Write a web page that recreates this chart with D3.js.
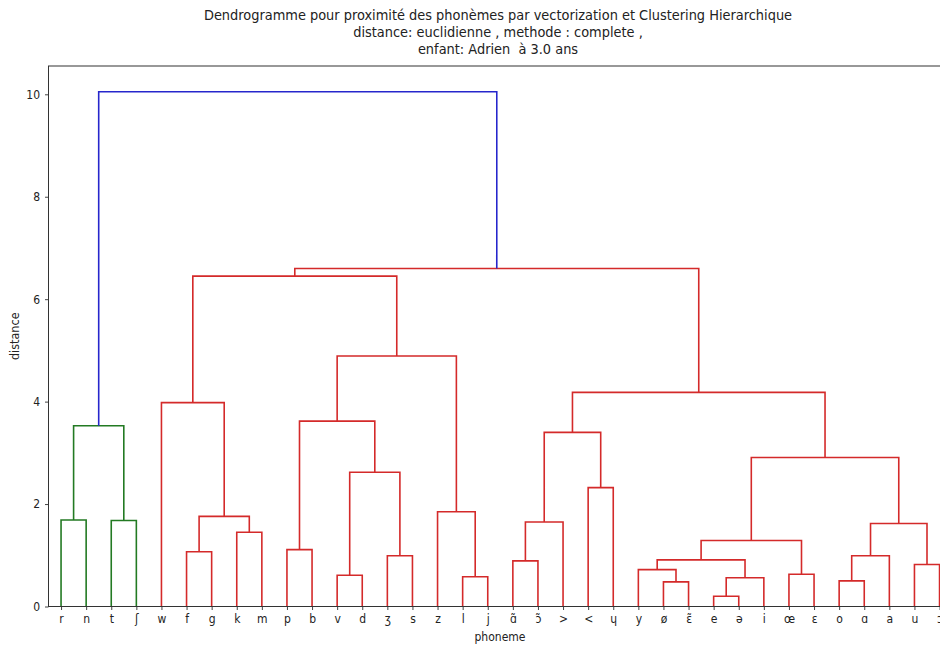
<!DOCTYPE html>
<html>
<head>
<meta charset="utf-8">
<script src="https://cdn.jsdelivr.net/npm/d3@7"></script>
<style>
  html, body { margin: 0; padding: 0; background: #fff; }
  svg { display: block; }
  text { font-family: "DejaVu Sans Condensed", "DejaVu Sans", sans-serif; fill: #222; white-space: pre; }
</style>
</head>
<body>
<svg id="chart" width="940" height="645"></svg>
<script>
// ---- data ----
const leaves = ["r","n","t","ʃ","w","f","g","k","m","p","b","v","d","ʒ","s","z","l","j",
  "ɑ̃","ɔ̃",">","<","ɥ","y","ø","ɛ̃","e","ə","i","œ","ɛ","o","ɑ","a","u","ɔ"];
// linkage rows: new cluster id = leaves.length + row index
const mergeA = [26,31,24,36,16,11,29,23,34,18,43,37,13,5, 9, 46,7, 47,45,2, 0, 49,15,21,41,51,54,56,50,4, 62,64,65,68,63];
const mergeB = [27,32,25,28,17,12,30,38,35,19,39,33,14,6, 10,42,8, 44,20,3, 1, 52,40,22,48,53,59,55,60,57,61,58,67,66,69];
const mergeHeight = [0.20,0.50,0.48,0.56,0.58,0.61,0.63,0.72,0.82,0.89,0.91,0.99,0.99,1.07,1.11,1.29,1.45,1.62,1.65,1.68,1.69,1.76,1.85,2.32,2.62,2.91,3.40,3.53,3.62,3.98,4.18,4.89,6.45,6.60,10.05];
const yTicks = [0,2,4,6,8,10];
const titleLines = [
  "Dendrogramme pour proximité des phonèmes par vectorization et Clustering Hierarchique",
  "distance: euclidienne , methode : complete ,",
  "enfant: Adrien  à 3.0 ans"
];
const clusterPalette = ["#237a23", "#d42a2a"];
const aboveColor = "#2626cc";

// ---- layout ----
const svg = d3.select("#chart");
const nLeaves = leaves.length;
const pLeft = 48.5, pTop = 66, pBottom = 606.5, step = 25.1;
const maxH = d3.max(mergeHeight);
const x = d3.scaleLinear().domain([0, 10 * nLeaves]).range([pLeft, pLeft + nLeaves * step]);
const y = d3.scaleLinear().domain([0, maxH * 1.05]).range([pBottom, pTop]);

// node positions
const nodeX = [], nodeH = [];
leaves.forEach((d, i) => { nodeX[i] = 5 + 10 * i; nodeH[i] = 0; });
mergeHeight.forEach((h, r) => {
  const id = nLeaves + r;
  nodeX[id] = (nodeX[mergeA[r]] + nodeX[mergeB[r]]) / 2;
  nodeH[id] = h;
});

// colours (scipy style: threshold 0.7*max)
const threshold = 0.7 * maxH;
const linkColor = [];
const roots = [];
for (let r = mergeHeight.length - 1; r >= 0; r--) {
  if (mergeHeight[r] >= threshold) {
    [mergeA[r], mergeB[r]].forEach(c => { if (c >= nLeaves && mergeHeight[c - nLeaves] < threshold) roots.push(c); });
  }
}
roots.sort((a, b) => nodeX[a] - nodeX[b]);
function paint(id, col) {
  if (id < nLeaves) return;
  const r = id - nLeaves;
  linkColor[r] = col;
  paint(mergeA[r], col); paint(mergeB[r], col);
}
roots.forEach((id, k) => paint(id, clusterPalette[k % clusterPalette.length]));
mergeHeight.forEach((h, r) => { if (linkColor[r] === undefined) linkColor[r] = aboveColor; });

// clip to plot area
svg.append("defs").append("clipPath").attr("id", "plotclip")
  .append("rect").attr("x", pLeft).attr("y", pTop - 2).attr("width", nLeaves * step).attr("height", pBottom - pTop + 4);

const g = svg.append("g").attr("clip-path", "url(#plotclip)");
g.selectAll("path.link").data(mergeHeight.map((h, r) => r)).join("path")
  .attr("class", "link")
  .attr("fill", "none")
  .attr("stroke", r => linkColor[r])
  .attr("stroke-width", 1.6)
  .attr("d", r => {
    const a = mergeA[r], b = mergeB[r], h = mergeHeight[r];
    return `M${x(nodeX[a])},${y(nodeH[a])}V${y(h)}H${x(nodeX[b])}V${y(nodeH[b])}`;
  });

// axes
const yAxis = d3.axisLeft(y).tickValues(yTicks).tickSize(3.5).tickPadding(5);
const ya = svg.append("g").attr("transform", `translate(${pLeft},0)`).call(yAxis);
ya.select(".domain").remove();
ya.selectAll("text").style("font-size", "12px").attr("fill", "#222");
ya.selectAll("line").attr("stroke", "#444");

const xAxis = d3.axisBottom(x).tickValues(leaves.map((d, i) => 5 + 10 * i))
  .tickFormat((d, i) => leaves[i]).tickSize(3.5).tickPadding(4);
const xa = svg.append("g").attr("transform", `translate(0,${pBottom})`).call(xAxis);
xa.select(".domain").remove();
xa.selectAll("text").style("font-size", "12px").attr("fill", "#222");
xa.selectAll("line").attr("stroke", "#444");

// frame
svg.append("rect").attr("x", pLeft).attr("y", pTop).attr("width", nLeaves * step).attr("height", pBottom - pTop)
  .attr("fill", "none").attr("stroke", "#333").attr("stroke-width", 1);

// titles
svg.append("g").selectAll("text").data(titleLines).join("text")
  .attr("x", 498).attr("y", (d, i) => 20 + i * 17)
  .attr("text-anchor", "middle").style("font-size", "14.4px").text(d => d);

svg.append("text").attr("x", 500).attr("y", 641).attr("text-anchor", "middle")
  .style("font-size", "12px").text("phoneme");
svg.append("text").attr("transform", `translate(19,${(pTop + pBottom) / 2}) rotate(-90)`)
  .attr("text-anchor", "middle").style("font-size", "12.5px").text("distance");
</script>
</body>
</html>
